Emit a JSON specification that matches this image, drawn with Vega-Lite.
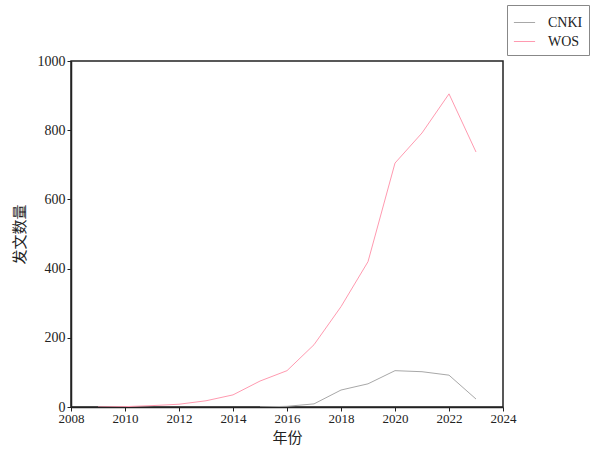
{
  "$schema": "https://vega.github.io/schema/vega-lite/v6.json",
  "width": 432,
  "height": 346,
  "autosize": {"type": "none"},
  "padding": {"left": 71, "top": 61, "right": 95, "bottom": 43},
  "background": "white",
  "config": {
    "view": {"stroke": "#222", "strokeWidth": 1.5},
    "font": "Liberation Serif"
  },
  "data": {
    "values": [
      {"year": 2009, "source": "WOS", "count": 0},
      {"year": 2010, "source": "WOS", "count": 1},
      {"year": 2011, "source": "WOS", "count": 4},
      {"year": 2012, "source": "WOS", "count": 8},
      {"year": 2013, "source": "WOS", "count": 18},
      {"year": 2014, "source": "WOS", "count": 35},
      {"year": 2015, "source": "WOS", "count": 75},
      {"year": 2016, "source": "WOS", "count": 105},
      {"year": 2017, "source": "WOS", "count": 180},
      {"year": 2018, "source": "WOS", "count": 290},
      {"year": 2019, "source": "WOS", "count": 420},
      {"year": 2020, "source": "WOS", "count": 705},
      {"year": 2021, "source": "WOS", "count": 792},
      {"year": 2022, "source": "WOS", "count": 905},
      {"year": 2023, "source": "WOS", "count": 737},
      {"year": 2015, "source": "CNKI", "count": 0},
      {"year": 2016, "source": "CNKI", "count": 2},
      {"year": 2017, "source": "CNKI", "count": 9},
      {"year": 2018, "source": "CNKI", "count": 49},
      {"year": 2019, "source": "CNKI", "count": 67},
      {"year": 2020, "source": "CNKI", "count": 105},
      {"year": 2021, "source": "CNKI", "count": 102},
      {"year": 2022, "source": "CNKI", "count": 92},
      {"year": 2023, "source": "CNKI", "count": 23}
    ]
  },
  "mark": {"type": "line", "strokeWidth": 1, "clip": true},
  "encoding": {
    "x": {
      "field": "year",
      "type": "quantitative",
      "scale": {"domain": [2008, 2024], "nice": false, "zero": false},
      "axis": {
        "values": [2008, 2010, 2012, 2014, 2016, 2018, 2020, 2022, 2024],
        "format": "d",
        "title": "年份",
        "titleFont": "Noto Sans CJK SC",
        "titleFontWeight": "normal",
        "titleFontSize": 15,
        "titleColor": "#222",
        "titlePadding": 5,
        "labelFont": "Liberation Serif",
        "labelFontSize": 13,
        "labelColor": "#222",
        "labelFlush": false,
        "labelPadding": 1,
        "domainColor": "#222",
        "domainWidth": 1.5,
        "tickColor": "#222",
        "tickSize": 4,
        "tickWidth": 1,
        "grid": false
      }
    },
    "y": {
      "field": "count",
      "type": "quantitative",
      "scale": {"domain": [0, 1000], "nice": false},
      "axis": {
        "values": [0, 200, 400, 600, 800, 1000],
        "format": "d",
        "title": "发文数量",
        "titleFont": "Noto Sans CJK SC",
        "titleFontWeight": "normal",
        "titleFontSize": 15,
        "titleColor": "#222",
        "titlePadding": 10,
        "labelFont": "Liberation Serif",
        "labelFontSize": 14,
        "labelColor": "#222",
        "labelFlush": false,
        "labelPadding": 2,
        "domainColor": "#222",
        "domainWidth": 1.5,
        "tickColor": "#222",
        "tickSize": 4,
        "tickWidth": 1,
        "grid": false
      }
    },
    "color": {
      "field": "source",
      "type": "nominal",
      "scale": {"domain": ["CNKI", "WOS"], "range": ["#a8a8a8", "#ff9ab0"]},
      "legend": {
        "title": null,
        "orient": "none",
        "legendX": 436,
        "legendY": -56,
        "symbolType": "stroke",
        "symbolSize": 450,
        "symbolStrokeWidth": 1,
        "labelFont": "Liberation Serif",
        "labelFontSize": 14,
        "labelColor": "#222",
        "labelOffset": 12,
        "rowPadding": 0,
        "padding": 6,
        "strokeColor": "#888",
        "fillColor": "white"
      }
    }
  }
}
